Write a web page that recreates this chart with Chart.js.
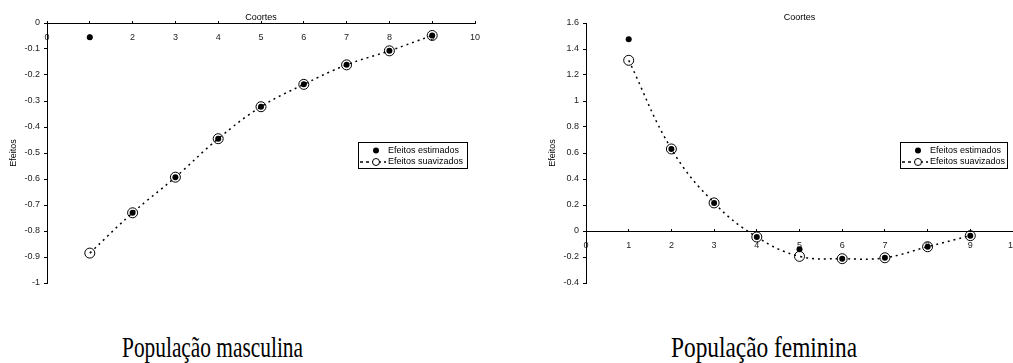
<!DOCTYPE html>
<html>
<head>
<meta charset="utf-8">
<script src="https://cdn.jsdelivr.net/npm/chart.js@4/dist/chart.umd.min.js"></script>
<style>
  html, body { margin: 0; padding: 0; background: #fff; }
  body { width: 1013px; height: 363px; position: relative; overflow: hidden; }
  .cv { position: absolute; top: 0; }
  .cap { position: absolute; font-family: "Liberation Serif", "Times New Roman", serif; font-size: 30px; line-height: 30px; color: #000; white-space: nowrap; transform-origin: 0 0; }
</style>
</head>
<body>
<div class="cv" style="left:0;width:500px;height:300px;"><canvas id="c1" width="500" height="300"></canvas></div>
<div class="cv" style="left:500px;width:530px;height:300px;"><canvas id="c2" width="530" height="300"></canvas></div>
<div class="cap" id="cap1" style="left:122px;top:332px;">População masculina</div>
<div class="cap" id="cap2" style="left:671px;top:332px;">População feminina</div>
<script>
// ---- data ----
const cohorts = [1, 2, 3, 4, 5, 6, 7, 8, 9];
const maleEstimated = [-0.055, -0.730, -0.593, -0.445, -0.322, -0.236, -0.161, -0.107, -0.048];
const maleSmoothed  = [-0.885, -0.730, -0.593, -0.445, -0.322, -0.236, -0.161, -0.107, -0.048];
const femaleEstimated = [1.475, 0.631, 0.216, -0.046, -0.141, -0.213, -0.206, -0.121, -0.036];
const femaleSmoothed  = [1.313, 0.631, 0.216, -0.046, -0.195, -0.213, -0.206, -0.121, -0.036];
const xTitle = 'Coortes';
const yTitle = 'Efeitos';
const seriesNames = ['Efeitos estimados', 'Efeitos suavizados'];
const captions = ['População masculina', 'População feminina'];

const FONT = '"Liberation Sans", Arial, sans-serif';
const pts = (ys) => cohorts.map((c, i) => ({ x: c, y: ys[i] }));
const fmt = (v) => String(Math.round(v * 10) / 10);

const overlay = {
  id: 'overlay',
  afterDraw(chart, args, o) {
    const { ctx, chartArea: a } = chart;
    ctx.save();
    ctx.fillStyle = '#000';
    ctx.font = '9px ' + FONT;
    ctx.textAlign = 'center';
    ctx.textBaseline = 'middle';
    ctx.fillText(xTitle, (a.left + a.right) / 2, a.top - 5);
    ctx.save();
    ctx.translate(a.left - 33, (a.top + a.bottom) / 2);
    ctx.rotate(-Math.PI / 2);
    ctx.fillText(yTitle, 0, 0);
    ctx.restore();
    // legend
    const b = o.box;
    ctx.fillStyle = '#fff';
    ctx.fillRect(b.x, b.y, b.w, b.h);
    ctx.strokeStyle = '#000';
    ctx.lineWidth = 1;
    ctx.strokeRect(b.x + 0.5, b.y + 0.5, b.w, b.h);
    const r1 = b.y + 8.5, r2 = b.y + 20;
    const mx = b.x + 18;
    ctx.fillStyle = '#000';
    ctx.beginPath(); ctx.arc(mx, r1, 3, 0, Math.PI * 2); ctx.fill();
    ctx.setLineDash([3, 3]);
    ctx.lineWidth = 1.5;
    ctx.beginPath(); ctx.moveTo(b.x + 2, r2); ctx.lineTo(b.x + 28, r2); ctx.stroke();
    ctx.setLineDash([]);
    ctx.fillStyle = '#fff';
    ctx.beginPath(); ctx.arc(mx, r2, 3.5, 0, Math.PI * 2); ctx.fill();
    ctx.lineWidth = 1;
    ctx.beginPath(); ctx.arc(mx, r2, 3.5, 0, Math.PI * 2); ctx.stroke();
    ctx.fillStyle = '#000';
    ctx.textAlign = 'left';
    ctx.fillText(chart.data.datasets[0].label, b.x + 30, r1);
    ctx.fillText(chart.data.datasets[1].label, b.x + 30, r2);
    ctx.restore();
  }
};

function makeChart(id, est, smo, yMin, yMax, yStep, axisW, pad, box) {
  return new Chart(document.getElementById(id), {
    type: 'line',
    data: {
      datasets: [
        { label: seriesNames[0], data: pts(est), showLine: false,
          pointRadius: 3, pointHoverRadius: 3, pointBackgroundColor: '#000', pointBorderColor: '#000', pointBorderWidth: 0 },
        { label: seriesNames[1], data: pts(smo), showLine: true,
          borderColor: '#000', borderWidth: 1.5, borderDash: [2, 4], tension: 0.4, fill: false,
          pointRadius: 5, pointHoverRadius: 5, pointBackgroundColor: 'rgba(0,0,0,0)', pointBorderColor: '#000', pointBorderWidth: 1 }
      ]
    },
    options: {
      responsive: false,
      animation: false,
      events: [],
      layout: { padding: pad },
      plugins: { legend: { display: false }, tooltip: { enabled: false }, title: { display: false }, overlay: { box } },
      scales: {
        x: {
          type: 'linear', position: { y: 0 }, min: 0, max: 10,
          afterFit: (s) => { s.paddingLeft = 0; s.paddingRight = 0; },
          ticks: { stepSize: 1, color: '#222', font: { family: FONT, size: 9 }, padding: 12, maxRotation: 0 },
          grid: { display: true, drawOnChartArea: false, drawTicks: true, tickLength: -3, color: '#000' },
          border: { display: true, color: '#000', width: 1 }
        },
        y: {
          type: 'linear', position: 'left', min: yMin, max: yMax,
          afterFit: (s) => { s.width = axisW; },
          ticks: { stepSize: yStep, color: '#222', font: { family: FONT, size: 9 }, padding: 4, callback: fmt },
          grid: { display: true, drawOnChartArea: false, drawTicks: true, tickLength: 3, color: '#000' },
          border: { display: true, color: '#000', width: 1 }
        }
      }
    },
    plugins: [overlay]
  });
}

makeChart('c1', maleEstimated, maleSmoothed, -1, 0, 0.1, 47,
  { left: 0, right: 25, top: 23, bottom: 17 }, { x: 358, y: 142, w: 109, h: 26 });
makeChart('c2', femaleEstimated, femaleSmoothed, -0.4, 1.6, 0.2, 86,
  { left: 0, right: 17, top: 23, bottom: 17 }, { x: 400, y: 142, w: 107, h: 26 });

// condense captions to the reference widths
const mctx = document.createElement('canvas').getContext('2d');
mctx.font = '30px "Liberation Serif", "Times New Roman", serif';
[['cap1', 181], ['cap2', 186]].forEach(([id, target], i) => {
  const el = document.getElementById(id);
  el.textContent = captions[i];
  const w = mctx.measureText(captions[i]).width;
  el.style.transform = 'scaleX(' + (target / w) + ')';
});
</script>
</body>
</html>
